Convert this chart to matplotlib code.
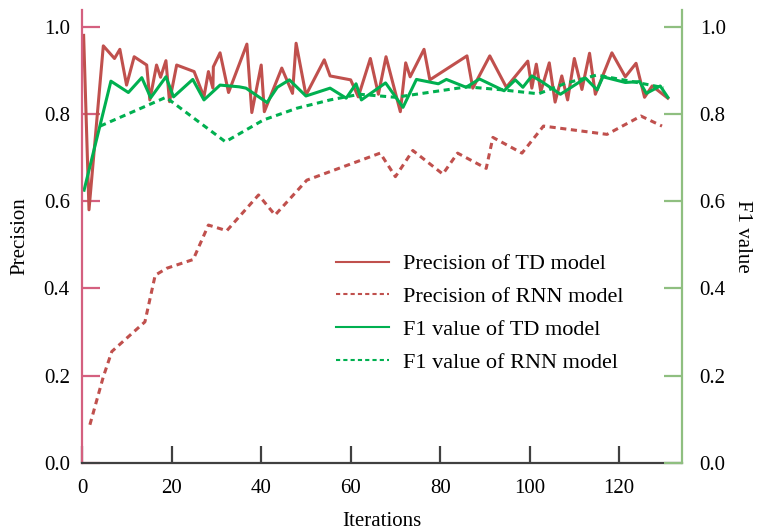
import matplotlib
matplotlib.use("Agg")
import matplotlib.pyplot as plt

plt.rcParams['font.family'] = ['Liberation Serif', 'DejaVu Serif']

# precision of TD model (solid red)
td_prec_x = [0.3, 1.5, 4.7, 7.2, 8.4, 9.9, 11.6, 14.4, 15.1, 16.6, 17.5, 18.7, 19.5, 21.1,
             25.0, 27.2, 28.2, 29.2, 29.3, 30.8, 32.7, 36.8, 37.9, 40.0, 40.7, 44.6, 47.0,
             47.8, 50.0, 54.1, 55.4, 60.0, 61.7, 64.4, 66.2, 67.9, 71.1, 72.3, 73.3, 76.4,
             77.7, 86.0, 87.3, 91.1, 94.8, 99.6, 100.5, 101.5, 102.5, 104.4, 105.7, 107.2,
             108.5, 110.0, 111.7, 113.4, 114.7, 118.4, 121.4, 123.8, 125.7, 127.4, 130.9]
td_prec_y = [0.98, 0.58, 0.956, 0.927, 0.948, 0.866, 0.931, 0.912, 0.832, 0.912, 0.884, 0.922,
             0.828, 0.912, 0.897, 0.839, 0.897, 0.859, 0.908, 0.940, 0.849, 0.960, 0.803, 0.912,
             0.805, 0.905, 0.847, 0.962, 0.843, 0.924, 0.887, 0.878, 0.839, 0.927, 0.845, 0.931,
             0.805, 0.917, 0.885, 0.948, 0.878, 0.933, 0.859, 0.933, 0.861, 0.921, 0.859, 0.914,
             0.851, 0.917, 0.827, 0.887, 0.832, 0.927, 0.856, 0.939, 0.845, 0.940, 0.885, 0.916,
             0.838, 0.864, 0.836]

# precision of RNN model (dashed red)
rnn_prec_x = [1.7, 4.7, 6.6, 14.0, 16.3, 18.9, 24.8, 28.2, 32.3, 39.4, 43.1, 50.2, 66.6, 70.0,
              73.9, 80.6, 83.9, 90.3, 91.8, 98.3, 103.1, 117.3, 124.9, 129.6]
rnn_prec_y = [0.087, 0.197, 0.255, 0.323, 0.430, 0.446, 0.466, 0.545, 0.532, 0.614, 0.568,
              0.648, 0.710, 0.656, 0.716, 0.662, 0.710, 0.675, 0.746, 0.710, 0.772, 0.753,
              0.795, 0.772]

# F1 value of TD model (solid green)
td_f1_x = [0.4, 6.4, 10.3, 13.3, 15.3, 18.7, 20.4, 24.7, 27.2, 30.8, 35.1, 36.6, 41.3, 43.6,
           46.3, 50.0, 55.4, 59.0, 61.2, 62.4, 67.8, 71.7, 74.7, 79.6, 81.4, 85.8, 88.8, 94.3,
           96.8, 98.5, 100.5, 102.4, 106.9, 112.5, 115.1, 116.4, 121.4, 124.6, 126.1, 129.2,
           130.9]
td_f1_y = [0.625, 0.875, 0.849, 0.883, 0.837, 0.885, 0.839, 0.879, 0.832, 0.866, 0.862, 0.859,
           0.826, 0.861, 0.878, 0.841, 0.859, 0.836, 0.869, 0.832, 0.871, 0.815, 0.879, 0.869,
           0.879, 0.861, 0.880, 0.853, 0.878, 0.861, 0.887, 0.876, 0.845, 0.882, 0.855, 0.885,
           0.872, 0.874, 0.847, 0.864, 0.838]

# F1 value of RNN model (dashed green)
rnn_f1_x = [4.0, 18.7, 32.0, 40.5, 48.0, 55.4, 62.0, 70.0, 78.0, 86.0, 94.0, 102.0, 108.0,
            115.0, 122.0, 130.0]
rnn_f1_y = [0.772, 0.838, 0.736, 0.786, 0.813, 0.832, 0.845, 0.838, 0.850, 0.862, 0.855,
            0.846, 0.870, 0.889, 0.876, 0.860]

red = '#c0504d'
green = '#00b050'
pink = '#d4607f'
sage = '#8fbf80'

fig = plt.figure(figsize=(7.57, 5.31), dpi=100)
ax = fig.add_axes([0.1087, 0.1286, 0.7918, 0.8524])

l1, = ax.plot(td_prec_x, td_prec_y, color=red, lw=2.2)
l2, = ax.plot(rnn_prec_x, rnn_prec_y, color=red, lw=2.2, ls=(0, (2, 1.5)))
l3, = ax.plot(td_f1_x, td_f1_y, color=green, lw=2.2)
l4, = ax.plot(rnn_f1_x, rnn_f1_y, color=green, lw=2.2, ls=(0, (2, 1.5)))

ax.set_xlim(0, 134)
ax.set_ylim(0, 1.038)
ax.set_xticks([0, 20, 40, 60, 80, 100, 120])
ax.set_yticks([0.0, 0.2, 0.4, 0.6, 0.8, 1.0])
ax.set_yticklabels(['0.0', '0.2', '0.4', '0.6', '0.8', '1.0'])

ax.spines['top'].set_visible(False)
ax.spines['right'].set_visible(False)
ax.spines['left'].set_color(pink)
ax.spines['left'].set_linewidth(1.6)
ax.spines['bottom'].set_color('#404040')
ax.spines['bottom'].set_linewidth(1.6)
ax.tick_params(axis='y', direction='in', length=13, width=1.6, color=pink,
               labelsize=15, pad=9)
ax.tick_params(axis='x', direction='in', length=12, width=1.6, color='#404040',
               labelsize=15, pad=12)
ax.set_xlabel('Iterations', fontsize=15, labelpad=10)
ax.set_ylabel('Precision', fontsize=15, labelpad=10)

ax2 = ax.twinx()
ax2.set_ylim(0, 1.038)
ax2.set_yticks([0.0, 0.2, 0.4, 0.6, 0.8, 1.0])
ax2.set_yticklabels(['0.0', '0.2', '0.4', '0.6', '0.8', '1.0'])
for s in ['top', 'left', 'bottom']:
    ax2.spines[s].set_visible(False)
ax2.spines['right'].set_color(sage)
ax2.spines['right'].set_linewidth(1.6)
ax2.tick_params(axis='y', direction='in', length=13, width=1.6, color=sage,
                labelsize=15, pad=13)
ax2.set_ylabel('F1 value', fontsize=15, rotation=270, labelpad=19)

leg = ax.legend([l1, l2, l3, l4],
                ['Precision of TD model', 'Precision of RNN model',
                 'F1 value of TD model', 'F1 value of RNN model'],
                loc='center left', bbox_to_anchor=(0.39, 0.33), frameon=False,
                fontsize=16, handlelength=2.4, labelspacing=0.55, handletextpad=0.6)
for h in leg.get_lines():
    h.set_linewidth(1.5)

fig.savefig('out.png', dpi=100)
